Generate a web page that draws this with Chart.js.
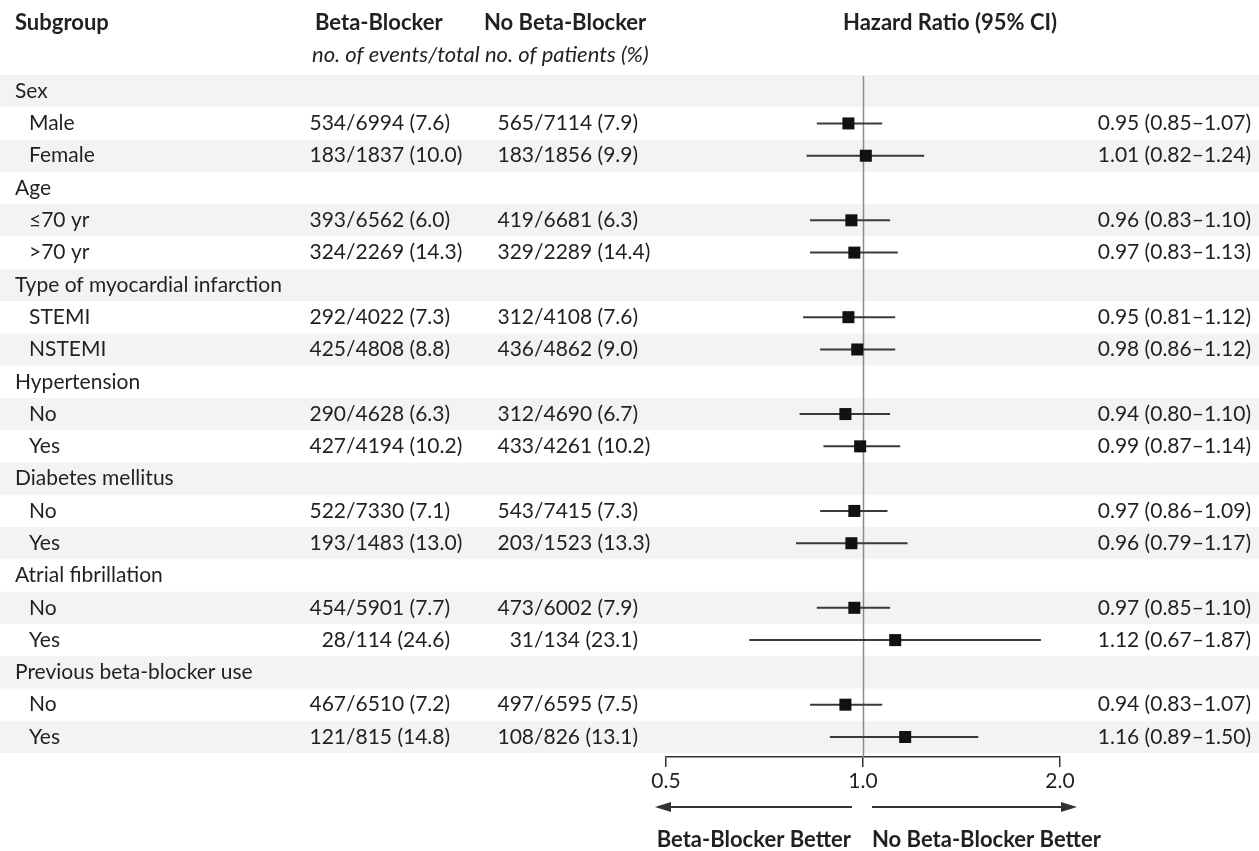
<!DOCTYPE html>
<html>
<head>
<meta charset="utf-8">
<title>Forest plot</title>
<script src="https://cdn.jsdelivr.net/npm/chart.js@4/dist/chart.umd.min.js"></script>
<style>
    html, body { margin: 0; padding: 0; background: #fff; }
</style>
</head>
<body>
<canvas id="chart" width="1259" height="851"></canvas>
<script>
// Row labels, top to bottom (group rows have no numbers)
var row_labels = ['Sex', 'Male', 'Female', 'Age', '\u226470 yr', '>70 yr',
    'Type of myocardial infarction', 'STEMI', 'NSTEMI', 'Hypertension', 'No', 'Yes',
    'Diabetes mellitus', 'No', 'Yes', 'Atrial fibrillation', 'No', 'Yes',
    'Previous beta-blocker use', 'No', 'Yes'];
var group_rows = [0, 3, 6, 9, 12, 15, 18];

// Subgroup rows (row index in row_labels)
var sub_rows = [1, 2, 4, 5, 7, 8, 10, 11, 13, 14, 16, 17, 19, 20];

// Beta-blocker arm: events / total (%)
var bb_events = [534, 183, 393, 324, 292, 425, 290, 427, 522, 193, 454, 28, 467, 121];
var bb_total = [6994, 1837, 6562, 2269, 4022, 4808, 4628, 4194, 7330, 1483, 5901, 114, 6510, 815];
var bb_pct = [7.6, 10.0, 6.0, 14.3, 7.3, 8.8, 6.3, 10.2, 7.1, 13.0, 7.7, 24.6, 7.2, 14.8];

// No beta-blocker arm: events / total (%)
var nobb_events = [565, 183, 419, 329, 312, 436, 312, 433, 543, 203, 473, 31, 497, 108];
var nobb_total = [7114, 1856, 6681, 2289, 4108, 4862, 4690, 4261, 7415, 1523, 6002, 134, 6595, 826];
var nobb_pct = [7.9, 9.9, 6.3, 14.4, 7.6, 9.0, 6.7, 10.2, 7.3, 13.3, 7.9, 23.1, 7.5, 13.1];

// Hazard ratios and 95% CI
var hr = [0.95, 1.01, 0.96, 0.97, 0.95, 0.98, 0.94, 0.99, 0.97, 0.96, 0.97, 1.12, 0.94, 1.16];
var ci_low = [0.85, 0.82, 0.83, 0.83, 0.81, 0.86, 0.80, 0.87, 0.86, 0.79, 0.85, 0.67, 0.83, 0.89];
var ci_high = [1.07, 1.24, 1.10, 1.13, 1.12, 1.12, 1.10, 1.14, 1.09, 1.17, 1.10, 1.87, 1.07, 1.50];

// Axis ticks
var x_ticks = [0.5, 1, 2];
var x_tick_labels = ['0.5', '1.0', '2.0'];

const text_color = '#231f20';
const font_family = 'Lato';
const font_size = 21;
const bold_size = 22;


// Gray bands behind every other row
const bands_plugin = {
    id: 'bands',
    beforeDraw(chart) {
        const ctx = chart.ctx;
        const y = chart.scales.y;
        ctx.save();
        ctx.fillStyle = '#fff';
        ctx.fillRect(0, 0, chart.width, chart.height);
        ctx.fillStyle = '#f2f3f3';
        for (var i = 0; i < row_labels.length; i += 2) {
            const top = y.getPixelForValue(i - 0.5);
            const bottom = y.getPixelForValue(i + 0.5);
            ctx.fillRect(0, top, chart.width, bottom - top);
        }
        ctx.restore();
    }
};


// Reference line at 1.0 and the confidence interval lines
const ci_plugin = {
    id: 'ci_lines',
    beforeDatasetsDraw(chart) {
        const ctx = chart.ctx;
        const x = chart.scales.x;
        const y = chart.scales.y;
        ctx.save();

        const ref_x = Math.round(x.getPixelForValue(1)) + 0.5;
        ctx.strokeStyle = '#8c8c8c';
        ctx.lineWidth = 1.5;
        ctx.beginPath();
        ctx.moveTo(ref_x, y.getPixelForValue(-0.5) + 1);
        ctx.lineTo(ref_x, chart.chartArea.bottom);
        ctx.stroke();

        ctx.strokeStyle = '#3a3a3a';
        ctx.lineWidth = 2;
        for (var i = 0; i < sub_rows.length; i++) {
            const py = y.getPixelForValue(sub_rows[i]);
            ctx.beginPath();
            ctx.moveTo(x.getPixelForValue(ci_low[i]), py);
            ctx.lineTo(x.getPixelForValue(ci_high[i]), py);
            ctx.stroke();
        }
        ctx.restore();
    }
};


// Text columns, headers and the arrows under the axis
const text_plugin = {
    id: 'table_text',
    afterDraw(chart) {
        const ctx = chart.ctx;
        const x = chart.scales.x;
        const y = chart.scales.y;
        const bold = `bold ${bold_size}px ${font_family}`;
        const normal = `${font_size}px ${font_family}`;
        ctx.save();
        ctx.fillStyle = text_color;
        ctx.textBaseline = 'middle';

        // Headers
        ctx.font = bold;
        ctx.textAlign = 'left';
        ctx.fillText('Subgroup', 15, 23);
        ctx.fillText('Beta-Blocker', 315, 23);
        ctx.fillText('No Beta-Blocker', 484, 23);
        ctx.fillText('Hazard Ratio (95% CI)', 843, 23);
        ctx.font = `italic ${bold_size}px ${font_family}`;
        ctx.fillText('no. of events/total no. of patients (%)', 312, 55);

        // Row labels
        ctx.font = normal;
        for (var i = 0; i < row_labels.length; i++) {
            const indent = group_rows.indexOf(i) === -1 ? 29 : 15;
            ctx.fillText(row_labels[i], indent, y.getPixelForValue(i));
        }

        // Numbers, lined up on the slash
        for (var i = 0; i < sub_rows.length; i++) {
            const py = y.getPixelForValue(sub_rows[i]);
            draw_count(ctx, 346, py, bb_events[i], bb_total[i], bb_pct[i]);
            draw_count(ctx, 534, py, nobb_events[i], nobb_total[i], nobb_pct[i]);
            ctx.textAlign = 'right';
            ctx.fillText(`${hr[i].toFixed(2)} (${ci_low[i].toFixed(2)}\u2013${ci_high[i].toFixed(2)})`, 1251, py);
        }

        // Arrows
        const arrow_y = 807;
        const mid = x.getPixelForValue(1);
        ctx.strokeStyle = '#333';
        ctx.lineWidth = 2;
        draw_arrow(ctx, mid - 11, x.left - 11, arrow_y);
        draw_arrow(ctx, mid + 9, x.right + 17, arrow_y);

        ctx.font = bold;
        ctx.textAlign = 'right';
        ctx.fillText('Beta-Blocker Better', mid - 12, 840);
        ctx.textAlign = 'left';
        ctx.fillText('No Beta-Blocker Better', mid + 9, 840);
        ctx.restore();
    }
};


function draw_count(ctx, slash_x, py, events, total, pct) {
    ctx.textAlign = 'right';
    ctx.fillText(`${events}`, slash_x, py);
    ctx.textAlign = 'left';
    ctx.fillText(`/${total} (${pct.toFixed(1)})`, slash_x, py);
}


function draw_arrow(ctx, from_x, to_x, py) {
    const dir = to_x > from_x ? 1 : -1;
    const head = 16;
    ctx.beginPath();
    ctx.moveTo(from_x, py);
    ctx.lineTo(to_x - dir * head, py);
    ctx.stroke();
    ctx.fillStyle = '#333';
    ctx.beginPath();
    ctx.moveTo(to_x, py);
    ctx.lineTo(to_x - dir * head, py - 5);
    ctx.lineTo(to_x - dir * head, py + 5);
    ctx.closePath();
    ctx.fill();
    ctx.fillStyle = text_color;
}


document.addEventListener('DOMContentLoaded', () => {

    const ctx = document.getElementById('chart');

    // One square per subgroup at the hazard ratio
    const points = hr.map((value, i) => ({ x: value, y: sub_rows[i] }));

    new Chart(ctx, {
        type: 'scatter',
        data: {
            datasets: [
                {
                    data: points,
                    pointStyle: 'rect',
                    pointRadius: 8.5,
                    backgroundColor: '#111',
                    borderWidth: 0
                }
            ]
        },
        options: {
            responsive: false,
            animation: false,
            events: [],
            layout: {
                padding: { left: 666, right: 199, top: 75, bottom: 54 }
            },
            plugins: {
                legend: { display: false },
                tooltip: { enabled: false }
            },
            scales: {
                x: {
                    type: 'logarithmic',
                    min: 0.5,
                    max: 2,
                    afterBuildTicks: scale => {
                        scale.ticks = x_ticks.map(v => ({ value: v }));
                    },
                    afterFit: scale => {
                        scale.height = 40;
                    },
                    grid: {
                        drawOnChartArea: false,
                        tickLength: 10,
                        color: '#333',
                        lineWidth: 1.5
                    },
                    border: { color: '#333', width: 1.5 },
                    ticks: {
                        autoSkip: false,
                        maxRotation: 0,
                        padding: 2,
                        color: text_color,
                        font: { family: font_family, size: font_size },
                        callback: (value) => {
                            const idx = x_ticks.indexOf(value);
                            return idx === -1 ? '' : x_tick_labels[idx];
                        }
                    }
                },
                y: {
                    display: false,
                    reverse: true,
                    min: -0.5,
                    max: 20.62
                }
            }
        },
        plugins: [bands_plugin, ci_plugin, text_plugin]
    });
});
</script>
</body>
</html>
